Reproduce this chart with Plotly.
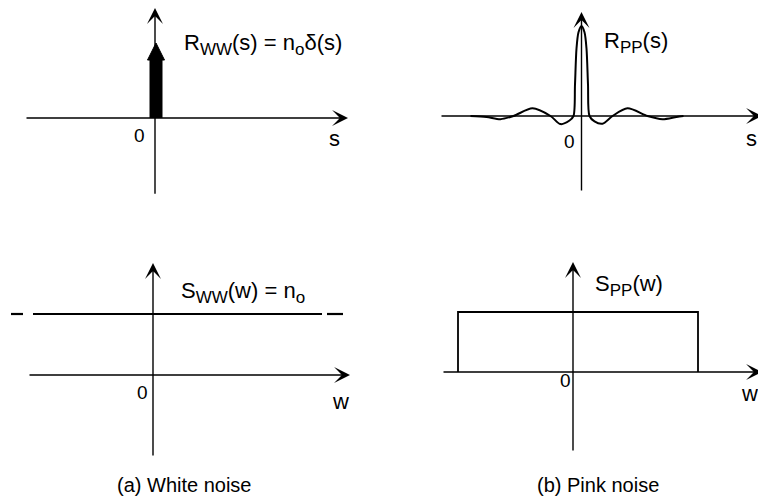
import plotly.graph_objects as go

W, H = 758, 502
FONT = "Liberation Sans, Arial, sans-serif"
INK = "black"

# ---- data -------------------------------------------------------------
n_o = 1.0                      # white-noise intensity

# pink-noise autocorrelation R_PP(s), sampled along s
s_pp = [-11.1, -9.5, -8.1, -6.8, -4.9, -3.1, -2.1, -1.2, -0.8, -0.65, -0.5,
        -0.3, 0.0, 0.3, 0.5, 0.65, 0.8, 1.3, 2.1, 3.1, 4.6, 6.6, 8.1, 9.5, 10.2]
r_pp = [0.0, -0.01, -0.035, 0.0, 0.085, 0.0, -0.09, -0.05, 0.0, 0.35, 0.75,
        0.93, 1.0, 0.93, 0.75, 0.35, 0.0, -0.06, -0.085, 0.0, 0.085, 0.0, -0.035,
        -0.01, 0.0]

# white-noise spectrum: flat level n_o, drawn with broken ends
w_ww = [-14.2, -13.0, None, -12.0, 16.9, None, 17.4, 19.0]
s_ww = [n_o, n_o, None, n_o, n_o, None, n_o, n_o]

# pink-noise spectrum: band-limited box
w_band = [-11.5, 12.5]
s_band = 1.0

# ---- panels: origin pixel and pixels per unit -------------------------
panels = {
    "a_top": dict(ox=155, oy=118, sx=10, sy=75),
    "b_top": dict(ox=581.5, oy=116, sx=10, sy=90),
    "a_bot": dict(ox=153, oy=375, sx=10, sy=61),
    "b_bot": dict(ox=573, oy=372, sx=10, sy=60),
}
# axis extents (data units): (x_min, x_max, y_min, y_max)
axis_ext = {
    "a_top": (-13.0, 19.3, -1.03, 1.467),
    "b_top": (-14.15, 18.05, -0.844, 1.156),
    "a_bot": (-12.5, 19.7, -1.344, 1.836),
    "b_bot": (-13.1, 18.9, -1.333, 1.833),
}

fig = go.Figure()
layout = dict(width=W, height=H, margin=dict(l=0, r=0, t=0, b=0),
              paper_bgcolor="white", plot_bgcolor="rgba(0,0,0,0)",
              showlegend=False, annotations=[])

refs = {}
for i, (name, p) in enumerate(panels.items(), start=1):
    xa = "xaxis" if i == 1 else f"xaxis{i}"
    ya = "yaxis" if i == 1 else f"yaxis{i}"
    xr = "x" if i == 1 else f"x{i}"
    yr = "y" if i == 1 else f"y{i}"
    refs[name] = (xr, yr)
    hidden = dict(visible=False, showgrid=False, zeroline=False, fixedrange=True)
    layout[xa] = dict(domain=[0, 1], range=[-p["ox"] / p["sx"], (W - p["ox"]) / p["sx"]],
                      anchor=yr, **hidden)
    layout[ya] = dict(domain=[0, 1], range=[(p["oy"] - H) / p["sy"], p["oy"] / p["sy"]],
                      anchor=xr, **hidden)

# coordinate axes drawn as arrows
for name, (x0, x1, y0, y1) in axis_ext.items():
    xr, yr = refs[name]
    common = dict(xref=xr, yref=yr, axref=xr, ayref=yr, text="", showarrow=True,
                  arrowhead=3, arrowsize=1.9, arrowwidth=1.4, arrowcolor=INK,
                  standoff=0)
    layout["annotations"].append(dict(x=x1, y=0, ax=x0, ay=0, **common))
    layout["annotations"].append(dict(x=0, y=y1, ax=0, ay=y0, **common))

# (a) top: delta impulse of strength n_o
xr, yr = refs["a_top"]
head_base = 0.773 * n_o
fig.add_trace(go.Scatter(x=[0.1, 0.1], y=[0, head_base + 0.02], mode="lines",
                         line=dict(color=INK, width=13), xaxis=xr, yaxis=yr,
                         hoverinfo="skip"))
fig.add_trace(go.Scatter(x=[-0.75, 0.95, 0.1, -0.75], y=[head_base, head_base, n_o, head_base],
                         mode="lines", fill="toself", fillcolor=INK,
                         line=dict(color=INK, width=1), xaxis=xr, yaxis=yr,
                         hoverinfo="skip"))

# (b) top: pink-noise autocorrelation
xr, yr = refs["b_top"]
fig.add_trace(go.Scatter(x=s_pp, y=r_pp, mode="lines",
                         line=dict(color=INK, width=2, shape="spline", smoothing=0.8),
                         xaxis=xr, yaxis=yr, hoverinfo="skip"))

# (a) bottom: flat white spectrum
xr, yr = refs["a_bot"]
fig.add_trace(go.Scatter(x=w_ww, y=s_ww, mode="lines", connectgaps=False,
                         line=dict(color=INK, width=2.2), xaxis=xr, yaxis=yr,
                         hoverinfo="skip"))

# (b) bottom: band-limited pink spectrum
xr, yr = refs["b_bot"]
fig.add_trace(go.Scatter(x=[w_band[0], w_band[0], w_band[1], w_band[1]],
                         y=[0, s_band, s_band, 0], mode="lines",
                         line=dict(color=INK, width=1.8), xaxis=xr, yaxis=yr,
                         hoverinfo="skip"))


def label(text, px, py, size, xanchor="left"):
    layout["annotations"].append(dict(
        text=text, x=px / W, y=1 - py / H, xref="paper", yref="paper",
        xanchor=xanchor, yanchor="middle", showarrow=False,
        font=dict(family=FONT, size=size, color=INK)))


def sub(t):
    return f"<sub><span style='font-size:17px'>{t}</span></sub>"


label(f"R{sub('WW')}(s) = n{sub('o')}δ(s)", 182, 44, 22)
label(f"R{sub('PP')}(s)", 602, 42, 22)
label(f"S{sub('WW')}(w) = n{sub('o')}", 179, 292, 22)
label(f"S{sub('PP')}(w)", 593, 285, 22)

for px, py in [(139, 135), (569, 142), (142, 392), (565, 380)]:
    label("0", px, py, 19, xanchor="center")
label("s", 334, 138, 22, xanchor="center")
label("s", 751, 138, 22, xanchor="center")
label("w", 340, 401, 22, xanchor="center")
label("w", 749, 393, 22, xanchor="center")

label("(a) White noise", 184.5, 485, 20, xanchor="center")
label("(b) Pink noise", 598, 485, 20, xanchor="center")

fig.update_layout(**layout)
fig.write_html("out.html")
